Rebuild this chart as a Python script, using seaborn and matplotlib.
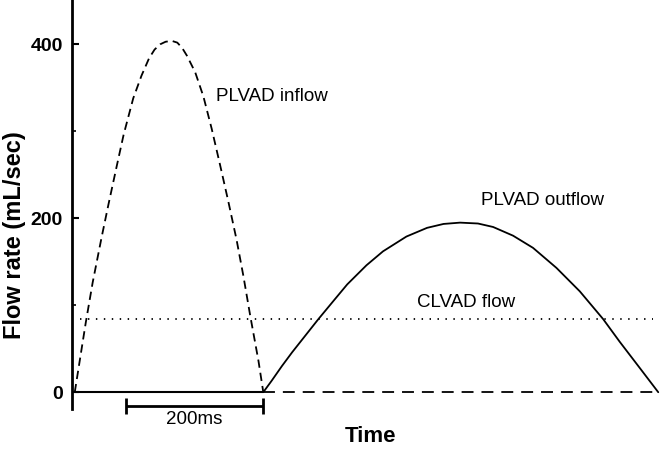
import pandas as pd
import matplotlib
matplotlib.use("Agg")
import matplotlib.pyplot as plt
import seaborn as sns

sns.set_style("ticks", {'axes.edgecolor': 'black', 'text.color': 'black',
                        'xtick.color': 'black', 'ytick.color': 'black', 'axes.labelcolor': 'black'})
plt.rcParams['font.family'] = ['Liberation Sans', 'DejaVu Sans']

# values (time in ms, flow in mL/sec)
inflow_t = [4, 12, 20, 30, 43, 53, 65, 75, 89, 101, 112, 120, 128, 136, 145, 153, 160, 167,
            179, 191, 203, 215, 227, 239, 249, 259, 271, 278]
inflow_v = [0, 40, 80, 126, 178, 216, 260, 296, 338, 364, 384, 394, 400, 403, 404, 402, 396, 387,
            368, 340, 303, 262, 220, 176, 134, 88, 36, 0]

outflow_t = [278, 290, 305, 320, 340, 358, 380, 400, 428, 452, 486, 516, 540, 564, 590, 612,
             641, 670, 704, 738, 772, 796, 826, 852]
outflow_v = [0, 13, 30, 46, 66, 84, 105, 124, 146, 162, 179, 189, 193.5, 195, 194, 190,
             180, 166, 143, 116, 84, 58, 27, 0]

base_solid_t = [0, 278]
base_dashed_t = [278, 852]
clvad_t = [12, 845]
clvad_flow = 84

scale_start = 78
scale_len = 200
scale_y = -15.5

major_ticks = [0, 200, 400]
minor_ticks = [100, 300]

df_in = pd.DataFrame({'t': inflow_t, 'flow': inflow_v})
df_out = pd.DataFrame({'t': outflow_t, 'flow': outflow_v})

fig = plt.figure(figsize=(6.61, 4.51), dpi=100)
ax = fig.add_axes([72 / 661, 42 / 451, 589 / 661, 409 / 451])

lw = 1.3
sns.lineplot(data=df_in, x='t', y='flow', color='black', lw=lw, ls=(0, (4.6, 2.8)), ax=ax, sort=False)
sns.lineplot(data=df_out, x='t', y='flow', color='black', lw=lw, ax=ax, sort=False)
sns.lineplot(x=base_solid_t, y=[0, 0], color='black', lw=lw + 0.2, ax=ax)
sns.lineplot(x=base_dashed_t, y=[0, 0], color='black', lw=lw, ls=(0, (6.6, 4.4)), ax=ax)
sns.lineplot(x=clvad_t, y=[clvad_flow, clvad_flow], color='black', lw=lw, ls=(0, (0.8, 3.6)), ax=ax)

# 200 ms scale bar
eb = ax.errorbar(scale_start + scale_len / 2, scale_y, xerr=scale_len / 2, color='black',
                 lw=2, capsize=5.5, capthick=2, clip_on=False)
for art in eb.lines[1] + eb.lines[2]:
    art.set_clip_on(False)
ax.text(scale_start + scale_len / 2, -31, "200ms", ha='center', va='center', fontsize=13.5, clip_on=False)

ax.text(210, 340, "PLVAD inflow", ha='left', va='center', fontsize=13.5)
ax.text(595, 221, "PLVAD outflow", ha='left', va='center', fontsize=13.5)
ax.text(501, 103, "CLVAD flow", ha='left', va='center', fontsize=13.5)

ax.set_xlim(0, 856)
ax.set_ylim(-19.3, 451)
ax.set_xticks([])
ax.set_yticks(major_ticks)
ax.set_yticks(minor_ticks, minor=True)
ax.tick_params(axis='y', which='major', direction='in', length=5, width=1.5, pad=6.5, labelsize=14)
ax.tick_params(axis='y', which='minor', direction='in', length=3, width=1.2)
for lab in ax.get_yticklabels():
    lab.set_fontweight('bold')

for side in ['top', 'right', 'bottom']:
    ax.spines[side].set_visible(False)
ax.spines['left'].set_linewidth(2)

ax.set_xlabel("Time", fontsize=16, fontweight='bold')
ax.set_ylabel("Flow rate (mL/sec)", fontsize=17, fontweight='bold')
ax.xaxis.set_label_coords(0.506, -0.0416)
ax.yaxis.set_label_coords(-0.0775, 0.425)

fig.savefig("out.png", dpi=100)
